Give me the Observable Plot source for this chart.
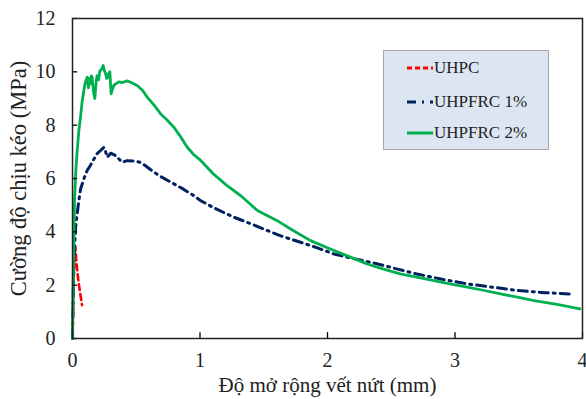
<!DOCTYPE html>
<html><head><meta charset="utf-8">
<script src="https://cdn.jsdelivr.net/npm/d3@7"></script>
<script src="https://cdn.jsdelivr.net/npm/@observablehq/plot@0.6"></script>
<style>
body{margin:0;background:#fff;}
#wrap{position:relative;width:586px;height:399px;font-family:"Liberation Serif","Times New Roman",serif;}
#legend{position:absolute;left:383px;top:50px;width:164px;height:98px;background:#dce6f2;border:1px solid #a6a6a6;}
.row{position:absolute;left:23px;height:20px;display:flex;align-items:center;font-size:17px;color:#222;}
.row svg{margin-right:1px;}
</style></head><body>
<div id="wrap"><div id="legend"></div></div>
<script>
const xTicks = [0, 1, 2, 3, 4];
const yTicks = [0, 2, 4, 6, 8, 10, 12];
const seriesNames = ["UHPC", "UHPFRC 1%", "UHPFRC 2%"];

const uhpcX = [0.0, 0.008, 0.016, 0.022, 0.03, 0.045, 0.06, 0.075];
const uhpcY = [0.0, 2.0, 3.3, 3.45, 2.9, 2.2, 1.7, 1.25];

const f1X = [0.0, 0.01, 0.025, 0.045, 0.063, 0.09, 0.115, 0.141, 0.165, 0.193, 0.22, 0.246, 0.26, 0.272, 0.3, 0.337, 0.36, 0.39, 0.429, 0.48, 0.533, 0.58, 0.638, 0.7, 0.795, 0.87, 0.95, 1.004, 1.13, 1.265, 1.4, 1.527, 1.65, 1.788, 1.92, 2.05, 2.2, 2.39, 2.55, 2.7, 2.9, 3.096, 3.3, 3.49, 3.7, 3.9];
const f1Y = [0.0, 2.8, 4.2, 5.0, 5.6, 6.0, 6.3, 6.5, 6.7, 6.93, 7.05, 7.17, 7.0, 6.8, 6.95, 6.86, 6.75, 6.61, 6.67, 6.65, 6.61, 6.45, 6.24, 6.05, 5.8, 5.6, 5.36, 5.17, 4.85, 4.55, 4.3, 4.05, 3.82, 3.61, 3.4, 3.17, 3.0, 2.8, 2.6, 2.42, 2.22, 2.05, 1.92, 1.8, 1.72, 1.67];

const f2X = [0.0, 0.008, 0.016, 0.026, 0.037, 0.05, 0.063, 0.076, 0.089, 0.1, 0.115, 0.125, 0.133, 0.141, 0.148, 0.154, 0.163, 0.175, 0.185, 0.193, 0.205, 0.214, 0.228, 0.24, 0.25, 0.259, 0.268, 0.277, 0.285, 0.293, 0.303, 0.313, 0.324, 0.34, 0.363, 0.39, 0.429, 0.46, 0.507, 0.55, 0.586, 0.64, 0.69, 0.74, 0.795, 0.85, 0.9, 0.95, 1.0, 1.05, 1.105, 1.16, 1.21, 1.265, 1.318, 1.38, 1.45, 1.53, 1.605, 1.73, 1.867, 2.05, 2.18, 2.31, 2.44, 2.57, 2.7, 2.835, 2.96, 3.096, 3.23, 3.357, 3.49, 3.62, 3.8, 3.98];
const f2Y = [0.0, 3.0, 5.17, 6.3, 7.05, 7.8, 8.3, 8.9, 9.3, 9.6, 9.8, 9.4, 9.75, 9.55, 9.85, 9.8, 9.3, 9.0, 9.6, 9.86, 9.7, 10.02, 10.1, 10.24, 10.05, 9.94, 9.75, 9.8, 9.95, 10.0, 9.17, 9.35, 9.49, 9.55, 9.62, 9.6, 9.66, 9.6, 9.49, 9.3, 9.05, 8.75, 8.43, 8.2, 7.92, 7.55, 7.17, 6.9, 6.7, 6.45, 6.17, 5.95, 5.74, 5.55, 5.36, 5.1, 4.8, 4.6, 4.42, 4.05, 3.67, 3.3, 3.05, 2.8, 2.6, 2.42, 2.3, 2.17, 2.05, 1.93, 1.8, 1.67, 1.55, 1.42, 1.28, 1.11];

const colors = ["#ff0000", "#002060", "#00b050"];
const dashes = ["6,4", "9,5,2,5", null];

const toRows = (xs, ys, s) => xs.map((x, i) => ({x, y: ys[i], s}));
const d0 = toRows(uhpcX, uhpcY, seriesNames[0]);
const d1 = toRows(f1X, f1Y, seriesNames[1]);
const d2 = toRows(f2X, f2Y, seriesNames[2]);

const font = '"Liberation Serif","Times New Roman",serif';
const fmt = d => String(d);
const chart = Plot.plot({
  width: 586, height: 399,
  marginLeft: 72, marginRight: 4, marginTop: 18, marginBottom: 61,
  style: {fontFamily: font, fontSize: "20px", color: "#222", background: "white"},
  x: {domain: [0, 4]},
  y: {domain: [0, 12]},
  marks: [
    Plot.lineY(d0, {x: "x", y: "y", stroke: colors[0], strokeWidth: 2.6, strokeDasharray: dashes[0]}),
    Plot.lineY(d1, {x: "x", y: "y", stroke: colors[1], strokeWidth: 3, strokeDasharray: dashes[1]}),
    Plot.lineY(d2, {x: "x", y: "y", stroke: colors[2], strokeWidth: 2.8}),
    Plot.ruleX(xTicks, {x: d => d, y1: 0, y2: 0.22, stroke: "black", strokeWidth: 1.3}),
    Plot.ruleY(yTicks, {y: d => d, x1: 0, x2: 0.04, stroke: "black", strokeWidth: 1.3}),
    Plot.frame({stroke: "#222", strokeWidth: 1.5}),
    Plot.axisX(xTicks, {tickSize: 0, tickPadding: 14, fontSize: 20, tickFormat: fmt, label: null}),
    Plot.axisY(yTicks, {tickSize: 0, tickPadding: 17, fontSize: 20, tickFormat: fmt, label: null}),
    Plot.axisX({tickSize: 0, ticks: [], fontSize: 21, label: "Độ mở rộng vết nứt (mm)", labelAnchor: "center", labelOffset: 53, labelArrow: "none"}),
    Plot.axisY({tickSize: 0, ticks: [], fontSize: 22.5, label: "Cường độ chịu kéo (MPa)", labelAnchor: "center", labelOffset: 62, labelArrow: "none"})
  ]
});
document.getElementById("wrap").prepend(chart);

const leg = document.getElementById("legend");
const tops = [7, 41, 72];
seriesNames.forEach((name, i) => {
  const row = document.createElement("div");
  row.className = "row";
  row.style.top = tops[i] + "px";
  row.innerHTML = `<svg width="26" height="6"><line x1="0" y1="3" x2="26" y2="3" stroke="${colors[i]}" stroke-width="3" ${dashes[i] ? `stroke-dasharray="${i===0?'5,3':'9,6,2,6'}"` : ""}/></svg><span>${name}</span>`;
  leg.appendChild(row);
});
</script>
</body></html>
